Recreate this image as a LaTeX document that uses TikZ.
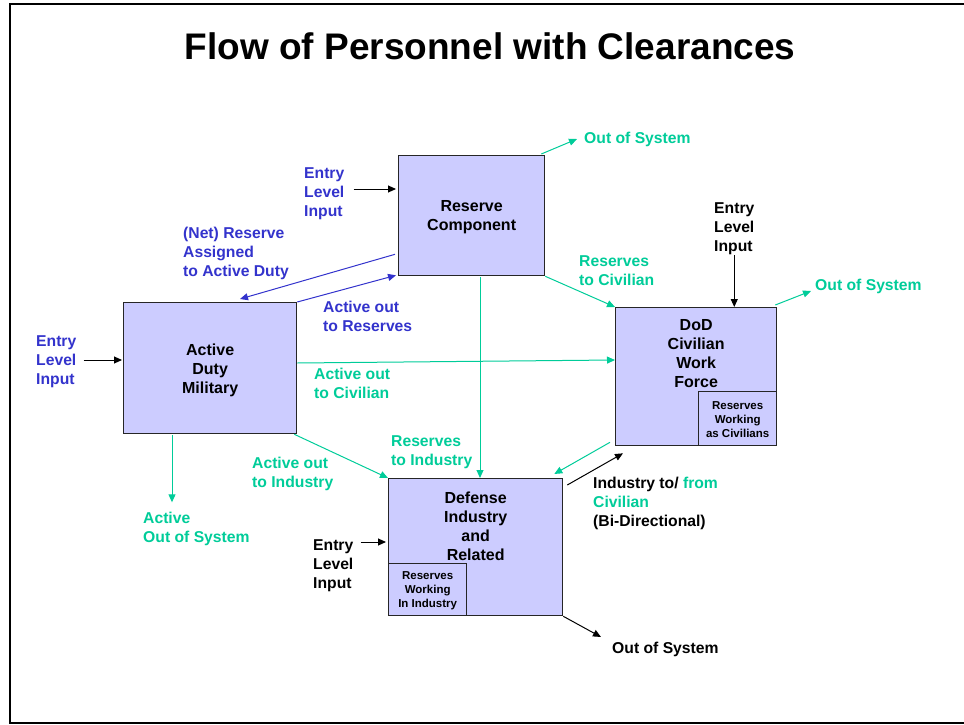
\documentclass[tikz,border=0pt]{standalone}
\usepackage{fontspec}
\setmainfont{Liberation Sans}
\usetikzlibrary{arrows.meta,calc}
\definecolor{flowblue}{RGB}{51,51,204}
\definecolor{flowgreen}{RGB}{0,204,153}
\definecolor{boxfill}{RGB}{204,204,255}
\begin{document}
\begin{tikzpicture}[x=1pt,y=-1pt,
  box/.style={draw=black!85, line width=1.3pt, fill=boxfill, inner sep=0pt},
  boxtext/.style={font=\bfseries\fontsize{16}{19}\selectfont, align=center, inner sep=0pt},
  smalltext/.style={font=\bfseries\fontsize{11.5}{14}\selectfont, align=center, inner sep=0pt},
  lbl/.style={font=\bfseries\fontsize{15.7}{19}\selectfont, align=left, inner sep=0pt, anchor=west},
  arr/.style={-{Triangle[length=8pt,width=7pt]}, line width=1pt}]
\useasboundingbox (0,0) rectangle (964,725);
\clip (0,0) rectangle (964,725);

% page frame
\draw[line width=2pt] (990,4) -- (10,4) -- (10,723) -- (990,723);

% title
\node[font=\bfseries\fontsize{37}{44}\selectfont, inner sep=0pt] (title) at (490,46) {Flow of Personnel with Clearances};

% main boxes
\node[box, anchor=north west, minimum width=146pt, minimum height=120pt] (res) at (398,155) {};
\node[boxtext] (restxt) at ($(res.center)+(0,2)$) {Reserve\\Component};

\node[box, anchor=north west, minimum width=173pt, minimum height=131pt] (act) at (123,302) {};
\node[boxtext] (acttxt) at ($(act.center)+(0,2)$) {Active\\Duty\\Military};

\node[box, anchor=north west, minimum width=161pt, minimum height=138pt] (dod) at (615,307) {};
\node[boxtext] (dodtxt) at ($(dod.north)+(0,47)$) {DoD\\Civilian\\Work\\Force};
\node[box, anchor=south east, minimum width=78pt, minimum height=54pt] (dodres) at (dod.south east) {};
\node[smalltext] (dodrestxt) at ($(dodres.center)+(0,1)$) {Reserves\\Working\\as Civilians};

\node[box, anchor=north west, minimum width=174pt, minimum height=137pt] (def) at (388,478) {};
\node[boxtext] (deftxt) at ($(def.north)+(0,48)$) {Defense\\Industry\\and\\Related};
\node[box, anchor=south west, minimum width=78pt, minimum height=52pt] (defres) at (def.south west) {};
\node[smalltext] (defrestxt) at ($(defres.center)+(0,1)$) {Reserves\\Working\\In Industry};

% labels
\node[lbl, text=flowgreen] (oos1) at (584,139.5) {Out of System};
\node[lbl, text=flowblue] (ent1) at (304,193.5) {Entry\\Level\\Input};
\node[lbl, text=flowblue] (net) at (183,253.5) {(Net) Reserve\\Assigned\\to Active Duty};
\node[lbl, text=flowblue] (aor) at (323,316.5) {Active out\\to Reserves};
\node[lbl, text=flowgreen] (rtc) at (579,270.5) {Reserves\\to Civilian};
\node[lbl] (ent4) at (714,228.5) {Entry\\Level\\Input};
\node[lbl, text=flowgreen] (oos2) at (815,286.5) {Out of System};
\node[lbl, text=flowblue] (ent2) at (36,361.5) {Entry\\Level\\Input};
\node[lbl, text=flowgreen] (aoc) at (314,383.5) {Active out\\to Civilian};
\node[lbl, text=flowgreen] (aos) at (143,528.5) {Active\\Out of System};
\node[lbl, text=flowgreen] (aoi) at (252,473.5) {Active out\\to Industry};
\node[lbl, text=flowgreen] (rti) at (391,452.5) {Reserves\\to Industry};
\node[lbl] (itf) at (593,503.5) {Industry to/ {\color{flowgreen}from}\\{\color{flowgreen}Civilian}\\(Bi-Directional)};
\node[lbl] (ent3) at (313,565.5) {Entry\\Level\\Input};
\node[lbl] (oos3) at (612,649.5) {Out of System};

% flows around the reserve component
\draw[arr] ([xshift=9pt,yshift=4.5pt]ent1.east) -- ($(res.north west)+(-2,34)$);
\draw[arr, flowgreen] ($(res.north east)+(-4,-1)$) -- ([xshift=-7pt,yshift=0.5pt]oos1.west);
\draw[arr, flowblue] ($(res.south west)+(-3,-22)$) -- ($(act.north west)+(117,-3)$);
\draw[arr, flowblue] (act.north east) -- ($(res.south west)+(-2,-1)$);
\draw[arr, flowgreen] ($(res.south west)+(82,1)$) -- ($(def.north west)+(92,0)$);
\draw[arr, flowgreen] (res.south east) -- (dod.north west);

% flows around active duty
\draw[arr] ([xshift=7pt,yshift=1.5pt]ent2.east) -- ($(act.north west)+(-1,58)$);
\draw[arr, flowgreen] ($(act.north east)+(0,61)$) -- ($(dod.north west)+(0,53)$);
\draw[arr, flowgreen] ($(act.south west)+(49,1)$) -- ($(act.south west)+(49,68)$);
\draw[arr, flowgreen] ($(act.south east)+(-3,0)$) -- (def.north west);

% flows around the civilian work force
\draw[arr] ([yshift=-0.5pt]ent4.south) -- (ent4.south |- dod.north);
\draw[arr, flowgreen] ($(dod.north east)+(-2,-2)$) -- ([xshift=-4pt,yshift=-4.5pt]oos2.west);
\draw[arr, flowgreen] ($(dod.south west)+(-5,-4)$) -- ($(def.north east)+(-9,-4)$);
\draw[arr] ($(def.north east)+(4,7)$) -- ($(dod.south west)+(8,7)$);

% flows around defense industry
\draw[arr] ([xshift=7pt,yshift=23.5pt]ent3.east) -- ($(def.north west)+(-2,64)$);
\draw[arr] (def.south east) -- ([xshift=-11pt,yshift=12.5pt]oos3.west);
\end{tikzpicture}
\end{document}
